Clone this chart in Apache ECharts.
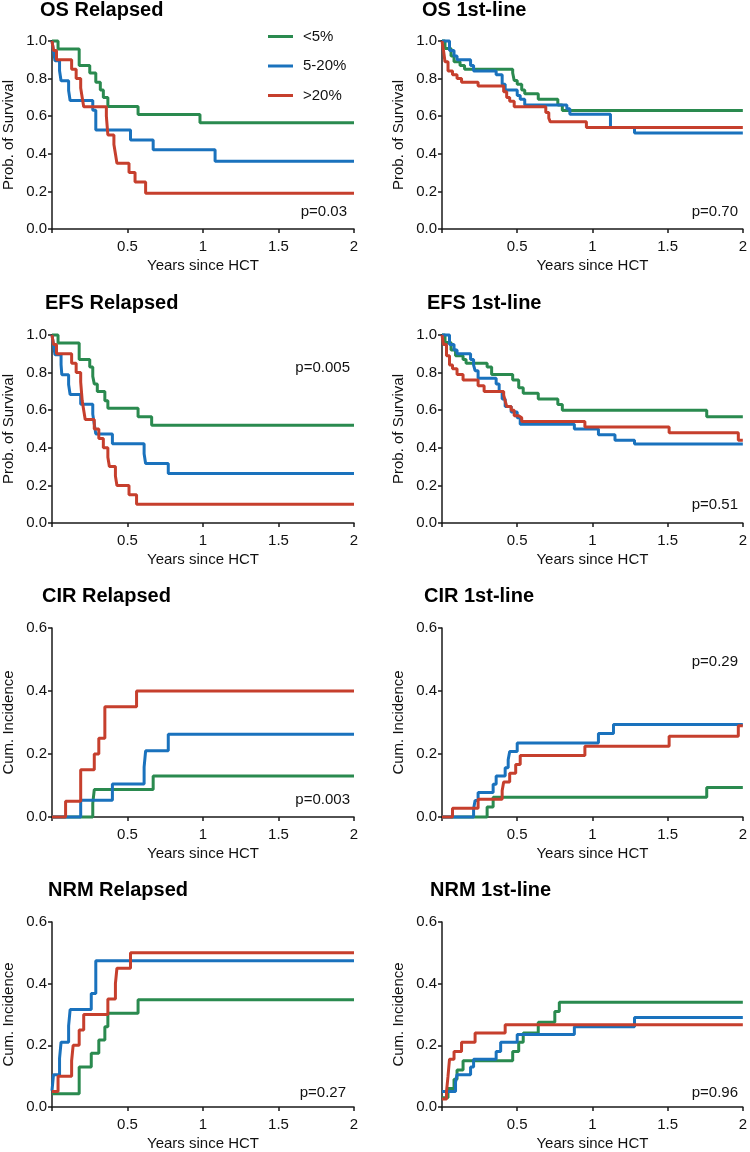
<!DOCTYPE html>
<html>
<head>
<meta charset="utf-8">
<script src="https://cdn.jsdelivr.net/npm/echarts@6/dist/echarts.min.js"></script>
<style>html,body{margin:0;padding:0;background:#fff;}#c{width:750px;height:1152px;}</style>
</head>
<body>
<div id="c"></div>
<script>
// ---- Data: [years since HCT, estimate] step points ----
const seriesNames = ['<5%', '5-20%', '>20%'];
const panelTitles = ['OS Relapsed', 'OS 1st-line', 'EFS Relapsed', 'EFS 1st-line', 'CIR Relapsed', 'CIR 1st-line', 'NRM Relapsed', 'NRM 1st-line'];
const pValues = ['p=0.03', 'p=0.70', 'p=0.005', 'p=0.51', 'p=0.003', 'p=0.29', 'p=0.27', 'p=0.96'];
const yNames = ['Prob. of Survival', 'Prob. of Survival', 'Prob. of Survival', 'Prob. of Survival', 'Cum. Incidence', 'Cum. Incidence', 'Cum. Incidence', 'Cum. Incidence'];
const yMax = [1, 1, 1, 1, 0.6, 0.6, 0.6, 0.6];
const xTicks = [0, 0.5, 1, 1.5, 2];

const osRelLow = [[0,1],[0.04,0.957],[0.18,0.87],[0.25,0.83],[0.29,0.78],[0.32,0.74],[0.34,0.70],[0.37,0.652],[0.57,0.609],[0.98,0.565],[2,0.565]];
const osRelMid = [[0,1],[0.01,0.947],[0.02,0.895],[0.05,0.842],[0.06,0.789],[0.11,0.737],[0.12,0.684],[0.27,0.632],[0.29,0.526],[0.52,0.474],[0.67,0.421],[1.08,0.36],[2,0.36]];
const osRelHigh = [[0,1],[0.01,0.95],[0.03,0.90],[0.13,0.85],[0.16,0.80],[0.19,0.75],[0.20,0.70],[0.21,0.65],[0.36,0.60],[0.365,0.55],[0.37,0.50],[0.41,0.45],[0.42,0.40],[0.43,0.35],[0.51,0.30],[0.55,0.25],[0.62,0.19],[2,0.19]];

const os1Low = [[0,1],[0.02,0.96],[0.06,0.92],[0.08,0.89],[0.12,0.87],[0.15,0.85],[0.47,0.83],[0.48,0.79],[0.50,0.77],[0.53,0.74],[0.55,0.72],[0.64,0.69],[0.77,0.66],[0.80,0.63],[2,0.63]];
const os1Mid = [[0,1],[0.05,0.95],[0.08,0.92],[0.10,0.90],[0.19,0.87],[0.21,0.84],[0.36,0.82],[0.40,0.77],[0.42,0.74],[0.50,0.71],[0.52,0.69],[0.55,0.66],[0.83,0.64],[0.85,0.61],[1.12,0.54],[1.28,0.51],[2,0.51]];
const os1High = [[0,1],[0.01,0.95],[0.02,0.89],[0.04,0.84],[0.07,0.82],[0.10,0.80],[0.13,0.78],[0.24,0.76],[0.41,0.73],[0.43,0.70],[0.45,0.68],[0.48,0.65],[0.69,0.62],[0.71,0.59],[0.72,0.57],[0.96,0.54],[2,0.54]];

const efsRelLow = [[0,1],[0.04,0.957],[0.18,0.87],[0.25,0.83],[0.27,0.78],[0.28,0.74],[0.30,0.70],[0.35,0.65],[0.37,0.61],[0.57,0.565],[0.66,0.52],[2,0.52]];
const efsRelMid = [[0,1],[0.01,0.947],[0.02,0.895],[0.06,0.842],[0.065,0.789],[0.11,0.737],[0.12,0.684],[0.19,0.632],[0.27,0.579],[0.28,0.526],[0.29,0.474],[0.40,0.421],[0.61,0.368],[0.62,0.316],[0.77,0.263],[2,0.263]];
const efsRelHigh = [[0,1],[0.01,0.95],[0.03,0.90],[0.13,0.85],[0.16,0.80],[0.19,0.75],[0.195,0.70],[0.20,0.65],[0.21,0.60],[0.22,0.55],[0.28,0.50],[0.31,0.45],[0.34,0.40],[0.37,0.35],[0.38,0.30],[0.42,0.25],[0.43,0.20],[0.51,0.15],[0.56,0.10],[2,0.10]];

const efs1Low = [[0,1],[0.02,0.96],[0.06,0.92],[0.09,0.89],[0.14,0.87],[0.16,0.85],[0.30,0.83],[0.33,0.79],[0.47,0.76],[0.51,0.72],[0.54,0.69],[0.64,0.66],[0.77,0.63],[0.80,0.60],[1.76,0.565],[2,0.565]];
const efs1Mid = [[0,1],[0.05,0.95],[0.08,0.92],[0.10,0.90],[0.19,0.87],[0.21,0.84],[0.22,0.81],[0.24,0.77],[0.36,0.74],[0.38,0.70],[0.40,0.66],[0.42,0.62],[0.46,0.59],[0.50,0.56],[0.52,0.525],[0.88,0.50],[1.04,0.47],[1.15,0.44],[1.28,0.42],[2,0.42]];
const efs1High = [[0,1],[0.01,0.95],[0.03,0.89],[0.05,0.84],[0.07,0.82],[0.10,0.79],[0.14,0.76],[0.24,0.73],[0.28,0.70],[0.41,0.68],[0.42,0.65],[0.43,0.62],[0.46,0.60],[0.48,0.57],[0.51,0.56],[0.53,0.54],[0.95,0.51],[1.51,0.48],[1.97,0.44],[2,0.44]];

const cirRelLow = [[0,0],[0.27,0.043],[0.28,0.087],[0.67,0.13],[2,0.13]];
const cirRelMid = [[0,0],[0.19,0.053],[0.40,0.105],[0.61,0.158],[0.62,0.21],[0.77,0.263],[2,0.263]];
const cirRelHigh = [[0,0],[0.09,0.05],[0.19,0.15],[0.28,0.20],[0.31,0.25],[0.35,0.35],[0.56,0.40],[2,0.40]];

const cir1Low = [[0,0],[0.30,0.032],[0.34,0.063],[1.76,0.094],[2,0.094]];
const cir1Mid = [[0,0],[0.21,0.026],[0.22,0.052],[0.24,0.078],[0.34,0.104],[0.36,0.13],[0.42,0.156],[0.44,0.182],[0.45,0.208],[0.50,0.235],[1.04,0.265],[1.14,0.294],[2,0.294]];
const cir1High = [[0,0],[0.07,0.028],[0.24,0.056],[0.40,0.083],[0.41,0.111],[0.45,0.139],[0.49,0.167],[0.52,0.195],[0.95,0.225],[1.51,0.256],[1.97,0.29],[2,0.29]];

const nrmRelLow = [[0,0.043],[0.18,0.13],[0.26,0.174],[0.31,0.217],[0.35,0.26],[0.37,0.304],[0.57,0.348],[2,0.348]];
const nrmRelMid = [[0,0.053],[0.01,0.105],[0.05,0.158],[0.06,0.21],[0.11,0.263],[0.12,0.316],[0.26,0.368],[0.29,0.474],[2,0.474]];
const nrmRelHigh = [[0,0.05],[0.04,0.10],[0.13,0.15],[0.14,0.20],[0.18,0.25],[0.21,0.30],[0.37,0.35],[0.42,0.40],[0.43,0.45],[0.52,0.50],[2,0.50]];

const nrm1Low = [[0,0.03],[0.04,0.06],[0.08,0.09],[0.10,0.12],[0.14,0.15],[0.47,0.18],[0.51,0.21],[0.54,0.24],[0.64,0.275],[0.75,0.31],[0.78,0.34],[2,0.34]];
const nrm1Mid = [[0,0.05],[0.09,0.08],[0.10,0.105],[0.19,0.13],[0.21,0.155],[0.36,0.18],[0.39,0.21],[0.50,0.235],[0.88,0.26],[1.28,0.29],[2,0.29]];
const nrm1High = [[0,0.026],[0.03,0.05],[0.04,0.10],[0.05,0.155],[0.08,0.18],[0.13,0.21],[0.22,0.24],[0.42,0.267],[2,0.267]];

const panelData = [
  [osRelLow, osRelMid, osRelHigh],
  [os1Low, os1Mid, os1High],
  [efsRelLow, efsRelMid, efsRelHigh],
  [efs1Low, efs1Mid, efs1High],
  [cirRelLow, cirRelMid, cirRelHigh],
  [cir1Low, cir1Mid, cir1High],
  [nrmRelLow, nrmRelMid, nrmRelHigh],
  [nrm1Low, nrm1Mid, nrm1High]
];

// ---- Layout / style ----
const colors = ['#2a8a4f', '#1a72bd', '#c63f2d'];
const FONT = '"Liberation Sans", Arial, sans-serif';
const gridBoxes = [
  {left: 50, top: 41, w: 304, h: 188},
  {left: 442, top: 41, w: 304, h: 188},
  {left: 50, top: 335, w: 304, h: 188},
  {left: 442, top: 335, w: 304, h: 188},
  {left: 50, top: 628, w: 304, h: 189},
  {left: 442, top: 628, w: 304, h: 189},
  {left: 50, top: 922, w: 304, h: 190},
  {left: 442, top: 922, w: 304, h: 190}
];
const titlePos = [[40, 0], [422, 0], [45, 293], [427, 293], [42, 586], [424, 586], [48, 880], [430, 880]];
const pPos = [[403, 204], [12, 204], [400, 360], [12, 497], [400, 792], [12, 654], [404, 1085], [12, 1085]];

const axisColor = '#1a1a1a';
const grids = [], xAxes = [], yAxes = [], series = [], titles = [];
gridBoxes.forEach((g, i) => {
  grids.push({left: g.left, top: g.top, width: g.w, height: g.h, containLabel: false});
  xAxes.push({
    type: 'value', gridIndex: i, min: xTicks[0], max: xTicks[xTicks.length - 1], interval: 0.5,
    name: 'Years since HCT', nameLocation: 'middle', nameGap: 29,
    nameTextStyle: {fontSize: 15, color: '#111', fontFamily: FONT},
    axisLine: {show: true, lineStyle: {color: axisColor, width: 1.5}},
    axisTick: {show: true, length: 4, lineStyle: {color: axisColor, width: 1.5}},
    axisLabel: {fontSize: 15, color: '#111', fontFamily: FONT, margin: 10,
      formatter: v => v === 0 ? '' : String(v)},
    splitLine: {show: false}
  });
  yAxes.push({
    type: 'value', gridIndex: i, min: 0, max: yMax[i], interval: 0.2,
    name: yNames[i], nameLocation: 'middle', nameGap: 36, nameRotate: 90,
    nameTextStyle: {fontSize: 15, color: '#111', fontFamily: FONT},
    axisLine: {show: true, lineStyle: {color: axisColor, width: 1.5}},
    axisTick: {show: true, length: 4, lineStyle: {color: axisColor, width: 1.5}},
    axisLabel: {fontSize: 15, color: '#111', fontFamily: FONT, margin: 5,
      formatter: v => v.toFixed(1)},
    splitLine: {show: false}
  });
  panelData[i].forEach((d, k) => {
    series.push({
      name: seriesNames[k], type: 'line', step: 'end', xAxisIndex: i, yAxisIndex: i,
      data: d, showSymbol: false, symbol: 'none', clip: false,
      lineStyle: {color: colors[k], width: 3}, itemStyle: {color: colors[k]},
      z: 2 + k
    });
  });
  titles.push({text: panelTitles[i], left: titlePos[i][0], top: titlePos[i][1], padding: 0,
    textStyle: {fontSize: 20, fontWeight: 'bold', color: '#000', fontFamily: FONT}});
  titles.push({text: pValues[i], right: pPos[i][0], top: pPos[i][1], padding: 0,
    textStyle: {fontSize: 15, fontWeight: 'normal', color: '#111', fontFamily: FONT}});
});

const chart = echarts.init(document.getElementById('c'), null, {renderer: 'canvas'});
chart.setOption({
  animation: false,
  backgroundColor: '#fff',
  color: colors,
  title: titles,
  legend: {
    data: seriesNames, orient: 'vertical', left: 263, top: 24, itemGap: 14.5,
    itemWidth: 25, itemHeight: 3, icon: 'rect',
    textStyle: {fontSize: 15, color: '#111', fontFamily: FONT, padding: [0, 0, 0, 5]}
  },
  grid: grids, xAxis: xAxes, yAxis: yAxes, series: series
});
</script>
</body>
</html>
